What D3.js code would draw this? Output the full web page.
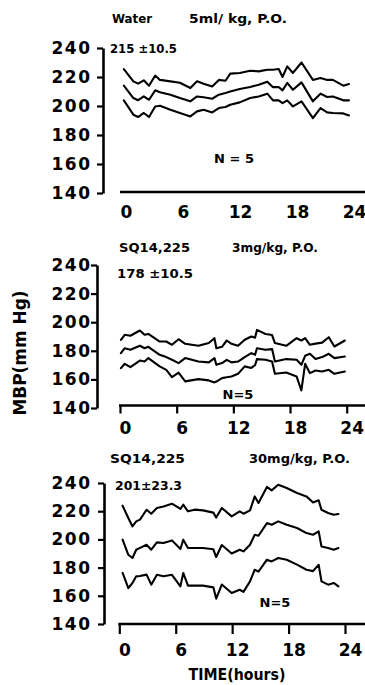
<!DOCTYPE html>
<html>
<head>
<meta charset="utf-8">
<script src="https://cdn.jsdelivr.net/npm/d3@7"></script>
<style>
  body { margin: 0; background: #fff; }
  svg { display: block; }
  .lbl { font-family: "DejaVu Sans", sans-serif; font-weight: bold; fill: #000; }
</style>
</head>
<body>
<div id="chart"></div>
<script>
// values (MBP, mmHg) - upper / mean / lower trace per panel
var yTicks = [140, 160, 180, 200, 220, 240];
var xTicks = [0, 6, 12, 18, 24];

var drugs = ["Water", "SQ14,225", "SQ14,225"];
var doses = ["5ml/ kg, P.O.", "3mg/kg, P.O.", "30mg/kg, P.O."];
var baseline = ["215 \u00b110.5", "178 \u00b110.5", "201\u00b123.3"];

var hours1 = [0.3, 1.3, 1.8, 2.4, 2.95, 3.6, 4.1, 5.2, 6.2, 7.3, 8.0, 8.7, 9.6, 10.3, 11.0, 11.5,
  12.5, 13.6, 14.5, 15.4, 16.0, 16.6, 17.0, 17.5, 18.1, 19.0, 20.2, 21.0, 21.7, 22.3, 23.4, 24.0];
var upper1 = [225.5, 217, 215.4, 217.7, 214, 221, 218, 217, 216, 212.4, 217, 215.4, 213.5, 218, 217.4, 222.3,
  222.8, 224.3, 223.9, 225, 225, 225.5, 220, 227.3, 222.8, 230, 218, 219.3, 218, 218, 214, 215.2];
var mean1 = [214, 205.5, 204, 206.6, 204.3, 210.8, 209.5, 207.8, 205.5, 203.2, 206.6, 206, 205, 207.8, 209, 210,
  211.7, 213.1, 214.7, 216.8, 213, 213.1, 210.8, 215.9, 211.2, 216.3, 203.2, 208.5, 206.2, 206.6, 203.9, 203.9];
var lower1 = [203.9, 194, 192.4, 195.2, 192.4, 199.7, 200.2, 197.4, 195.2, 192.8, 196.3, 197.4, 195.6, 198.6, 199.3, 200.9,
  202.5, 205.5, 206.6, 208.5, 203.9, 203.9, 202, 203.9, 199.7, 203.2, 191.7, 198.6, 195.6, 195.2, 194.9, 193.5];

var hours2 = [0.1, 0.5, 1.1, 2.1, 2.6, 3.0, 4.2, 4.9, 5.5, 6.2, 6.9, 8.3, 9.4, 10.0, 10.2, 10.8, 11.3, 11.8,
  12.5, 13.2, 13.9, 14.3, 14.5, 15.4, 16.1, 16.4, 17.6, 18.7, 19.2, 19.6, 20.1, 20.7, 21.4, 22.1, 22.7, 23.8];
var upper2 = [187.7, 191.2, 190.5, 194.2, 191.2, 191.8, 186.5, 186.5, 184.2, 188.1, 184.9, 183.5, 185.4, 188.8, 181.8, 182.8, 187.2, 184.9,
  183.5, 187.7, 190, 189.2, 194.6, 191.8, 191, 185.4, 183.5, 188.8, 187.2, 188.8, 184.2, 185, 185.7, 189.5, 183, 187.2];
var mean2 = [178.4, 181.8, 180.7, 183.5, 181.8, 182.8, 177.2, 175.6, 173.7, 171.4, 174.9, 172.5, 171.9, 174.9, 170.2, 171.4, 173.7, 171.9,
  172.5, 175.6, 178.4, 177.2, 181.8, 180.7, 181.2, 172.5, 174.2, 173.7, 170.2, 176.5, 177.9, 174.2, 175.6, 177.9, 174.9, 176];
var lower2 = [167.9, 170.9, 168.6, 173.2, 172.5, 174.9, 169.1, 166.7, 161.6, 164.8, 158.6, 160.2, 159.3, 157.9, 158.5, 160.9, 161.5, 162,
  163.9, 169.1, 168, 170, 174.2, 173.7, 172.5, 163.9, 164.8, 162, 152.3, 170.9, 164.4, 166.2, 165.5, 166.7, 163.9, 165.5];

var hours3 = [0.35, 0.96, 1.4, 1.8, 2.2, 2.9, 3.4, 4.0, 4.7, 5.6, 6.5, 6.8, 7.3, 8.0, 8.9, 10.0, 10.3, 10.9,
  11.95, 12.8, 13.2, 13.9, 14.4, 14.8, 15.7, 16.2, 16.9, 17.8, 18.9, 19.9, 20.6, 21.2, 21.5, 22.2, 22.8, 23.3];
var upper3 = [223.9, 215.2, 209.2, 212.8, 214, 221, 218.2, 222.3, 223.4, 225.3, 221.6, 224.6, 219.9, 221.1, 220.6, 219, 215.5, 222.3,
  216.3, 219.9, 218.2, 220.6, 230.5, 225.8, 237.2, 234.8, 238.8, 236.5, 232.9, 230.5, 226.2, 227.7, 221, 218.7, 217.5, 218];
var mean3 = [199.8, 189.1, 186.8, 192.7, 194, 196.2, 192.7, 197.9, 197.5, 199.3, 193.2, 199.8, 193.9, 193.9, 193.9, 193, 187.5, 196,
  190, 192.7, 191.5, 196.2, 203.3, 202.6, 211.6, 210.4, 212.8, 210.4, 208.1, 204.5, 203.3, 205.7, 195, 193.9, 192.7, 193.9];
var lower3 = [176.2, 165.5, 169.1, 173.8, 174, 175, 167.9, 174.9, 173.8, 174.9, 166.7, 176.2, 167.2, 167.2, 167.2, 166, 158, 168,
  162, 164.3, 162.8, 170.2, 178.5, 177.1, 185.6, 184.4, 186.8, 185.6, 182.1, 178.5, 177.5, 182, 170.2, 167.9, 169.1, 166.7];

var W = 365, H = 685;

// layout of each panel (pixels)
var panels = [
  { hours: hours1, series: [upper1, mean1, lower1], yTop: 48, yBot: 193, axisX: 103, x0: 121, x24: 349,
    xAxisY: 192, tick: 0, pad: 14, titleY: 23, baseY: 53, drugX: 112, drugW: 40, doseX: 189, doseW: 98,
    baseX: 110, baseW: 67, nX: 234, nY: 163, nText: "N = 5" },
  { hours: hours2, series: [upper2, mean2, lower2], yTop: 265, yBot: 408, axisX: 97, x0: 120, x24: 346.7,
    xAxisY: 405.5, tick: 8, pad: 8.5, titleY: 252, baseY: 278, drugX: 119, drugW: 71, doseX: 232, doseW: 86,
    baseX: 117, baseW: 76, nX: 238, nY: 399, nText: "N=5" },
  { hours: hours3, series: [upper3, mean3, lower3], yTop: 483, yBot: 624, axisX: 104, x0: 119.3, x24: 345,
    xAxisY: 624, tick: 10, pad: 10, titleY: 463, baseY: 490, drugX: 110, drugW: 75, doseX: 249, doseW: 101,
    baseX: 115, baseW: 67, nX: 275, nY: 607, nText: "N=5" }
];

var svg = d3.select("#chart").append("svg").attr("width", W).attr("height", H);
svg.append("rect").attr("width", W).attr("height", H).attr("fill", "#fff");

panels.forEach(function(p, i) {
  var y = d3.scaleLinear().domain([140, 240]).range([p.yBot, p.yTop]);
  var x = d3.scaleLinear().domain([0, 24]).range([p.x0, p.x24]);
  var g = svg.append("g");

  // y axis
  var ya = g.append("g").attr("transform", "translate(" + p.axisX + ",0)")
    .call(d3.axisLeft(y).tickValues(yTicks).tickSize(6).tickSizeOuter(0).tickPadding(7));
  ya.select(".domain").attr("stroke-width", 2.6);
  ya.selectAll(".tick line").attr("stroke-width", 2.2);
  ya.selectAll("text").attr("class", "lbl").style("font-size", "17px")
    .style("letter-spacing", "1.5px").attr("x", 90 - p.axisX + 1.5);

  // x axis
  var xa = g.append("g").attr("transform", "translate(0," + p.xAxisY + ")")
    .call(d3.axisBottom(x).tickValues(xTicks).tickSize(p.tick).tickSizeOuter(0).tickPadding(p.pad));
  xa.select(".domain").remove();
  xa.selectAll(".tick line").attr("stroke-width", 2.2);
  xa.selectAll("text").attr("class", "lbl").style("font-size", "17px").attr("dx", 5);
  g.append("line").attr("x1", x(0) - 1).attr("x2", W).attr("y1", p.xAxisY).attr("y2", p.xAxisY)
    .attr("stroke", "#000").attr("stroke-width", 2.6);

  // traces
  var line = d3.line().x(function(d) { return x(d[0]); }).y(function(d) { return y(d[1]); });
  p.series.forEach(function(s) {
    g.append("path").datum(d3.zip(p.hours, s)).attr("d", line)
      .attr("fill", "none").attr("stroke", "#000").attr("stroke-width", 2.1)
      .attr("stroke-linejoin", "round").attr("stroke-linecap", "round");
  });

  // titles
  g.append("text").attr("class", "lbl").attr("x", p.drugX).attr("y", p.titleY)
    .attr("textLength", p.drugW).attr("lengthAdjust", "spacingAndGlyphs").style("font-size", "13px").text(drugs[i]);
  g.append("text").attr("class", "lbl").attr("x", p.doseX).attr("y", p.titleY)
    .attr("textLength", p.doseW).attr("lengthAdjust", "spacingAndGlyphs").style("font-size", "13px").text(doses[i]);
  g.append("text").attr("class", "lbl").attr("x", p.baseX).attr("y", p.baseY)
    .attr("textLength", p.baseW).attr("lengthAdjust", "spacingAndGlyphs").style("font-size", "13px").text(baseline[i]);
  g.append("text").attr("class", "lbl").attr("x", p.nX).attr("y", p.nY).attr("text-anchor", "middle")
    .style("font-size", "13px").text(p.nText);
});

svg.append("text").attr("class", "lbl").attr("transform", "translate(26,353) rotate(-90)")
  .attr("text-anchor", "middle").attr("textLength", 125).attr("lengthAdjust", "spacingAndGlyphs")
  .style("font-size", "17px").text("MBP(mm Hg)");
svg.append("text").attr("class", "lbl").attr("x", 237).attr("y", 680).attr("text-anchor", "middle")
  .attr("textLength", 97).attr("lengthAdjust", "spacingAndGlyphs")
  .style("font-size", "15px").text("TIME(hours)");
</script>
</body>
</html>
